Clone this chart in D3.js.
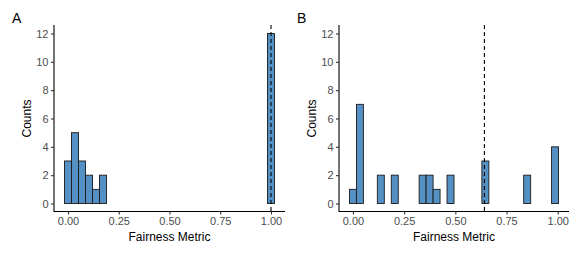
<!DOCTYPE html>
<html>
<head>
<meta charset="utf-8">
<script src="https://cdn.jsdelivr.net/npm/d3@7"></script>
<style>
  body { margin: 0; background: #fff; }
  text { font-family: "Liberation Sans", Arial, sans-serif; }
</style>
</head>
<body>
<svg id="chart" width="581" height="255"></svg>
<script>
// histogram counts, 30 bins each (bin centers run from binMin to binMax)
const countsA = [3, 5, 3, 2, 1, 2, 0, 0, 0, 0, 0, 0, 0, 0, 0, 0, 0, 0, 0, 0, 0, 0, 0, 0, 0, 0, 0, 0, 0, 12];
const countsB = [1, 7, 0, 0, 2, 0, 2, 0, 0, 0, 2, 2, 1, 0, 2, 0, 0, 0, 0, 3, 0, 0, 0, 0, 0, 2, 0, 0, 0, 4];
const rangeA = [0, 1];
const rangeB = [0, 0.987];
const vlineA = 1.0;
const vlineB = 0.642;
const xTicks = [0, 0.25, 0.5, 0.75, 1];
const yTicks = [0, 2, 4, 6, 8, 10, 12];

const svg = d3.select("#chart");
const fill = "#5590C4";

function panel(counts, range, vline, label, left, right) {
  const top = 25, bottom = 212;
  const n = counts.length;
  const bw = (range[1] - range[0]) / (n - 1);
  const lo = range[0] - bw / 2, hi = range[1] + bw / 2;
  const pad = (hi - lo) * 0.05;

  const x = d3.scaleLinear().domain([lo - pad, hi + pad]).range([left, right]);
  const y = d3.scaleLinear().domain([-0.6, 12.6]).range([bottom, top]);

  const g = svg.append("g");

  const bins = counts.map((c, i) => ({x0: lo + i * bw, x1: lo + (i + 1) * bw, c: c}));

  // bars (zero bins draw as a flat line like ggplot)
  g.selectAll("rect")
    .data(bins)
    .enter()
    .append("rect")
      .attr("x", d => x(d.x0))
      .attr("width", d => x(d.x1) - x(d.x0))
      .attr("y", d => y(d.c))
      .attr("height", d => y(0) - y(d.c))
      .attr("fill", fill)
      .attr("stroke", "#1a1a1a")
      .attr("stroke-width", 0.9);

  // dashed reference line
  g.append("line")
    .attr("x1", x(vline)).attr("x2", x(vline))
    .attr("y1", top).attr("y2", bottom)
    .attr("stroke", "#000")
    .attr("stroke-width", 1.1)
    .attr("stroke-dasharray", "4,3");

  // axes
  const xAxis = g.append("g")
    .attr("transform", `translate(0,${bottom - 0.5})`)
    .call(d3.axisBottom(x).tickValues(xTicks).tickFormat(d3.format(".2f")).tickSizeOuter(0).tickSize(3).tickPadding(3));
  const yAxis = g.append("g")
    .attr("transform", `translate(${left},0)`)
    .call(d3.axisLeft(y).tickValues(yTicks).tickSizeOuter(0).tickSize(3).tickPadding(2.5));

  [xAxis, yAxis].forEach(a => {
    a.select(".domain").attr("stroke", "#000").attr("stroke-width", 1.1);
    a.selectAll(".tick line").attr("stroke", "#333").attr("stroke-width", 1.1);
    a.selectAll(".tick text")
      .attr("fill", "#4d4d4d")
      .style("font-size", "11px")
      .style("font-family", "'Liberation Sans', Arial, sans-serif");
  });
  xAxis.select(".domain").attr("d", `M${left},0H${right}`);
  yAxis.select(".domain").attr("d", `M0,${top}V${bottom}`);

  // titles
  g.append("text")
    .attr("x", (left + right) / 2)
    .attr("y", 240.5)
    .attr("text-anchor", "middle")
    .style("font-size", "12px")
    .text("Fairness Metric");

  g.append("text")
    .attr("transform", `translate(${left - 23.5},${(top + bottom) / 2}) rotate(-90)`)
    .attr("text-anchor", "middle")
    .style("font-size", "12px")
    .text("Counts");

  g.append("text")
    .attr("x", left - 42)
    .attr("y", 23.3)
    .style("font-size", "14px")
    .text(label);
}

panel(countsA, rangeA, vlineA, "A", 54, 285);
panel(countsB, rangeB, vlineB, "B", 339, 569);
</script>
</body>
</html>
